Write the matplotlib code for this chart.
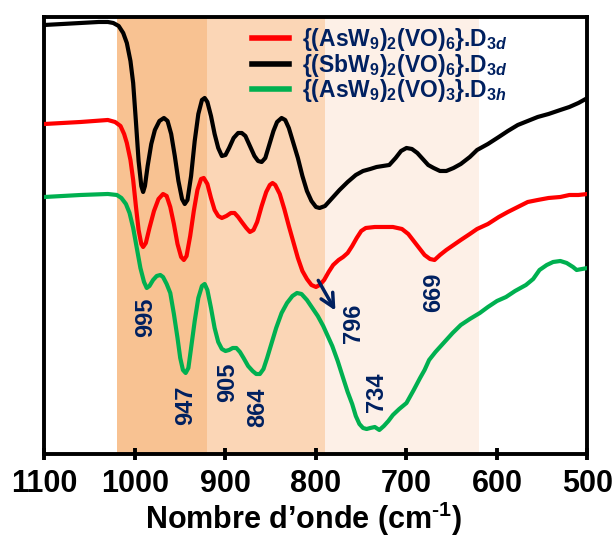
#!/usr/bin/env python3
# -*- coding: utf-8 -*-
"""Spectres IR (transmittance, u.a.) des trois polyoxométallates, zone 1100-500 cm-1."""

import matplotlib
matplotlib.use("Agg")
import matplotlib.pyplot as plt

# ---- données (nombre d'onde cm-1, transmittance u.a.) ----
wn_black = [1100, 1080, 1060, 1040, 1030, 1024, 1018, 1013, 1009, 1005, 1002, 999, 996, 993, 991, 989,
            986, 982, 978, 973, 968, 964, 960, 956, 952, 948, 945, 942, 938, 934, 930, 926, 923, 920,
            916, 912, 908, 904, 900, 896, 891, 886, 882, 878, 873, 868, 864, 860, 856, 852, 847, 843,
            838, 834, 830, 825, 820, 815, 810, 805, 800, 796, 790, 785, 780, 774, 765, 756, 748, 740,
            733, 726, 719, 712, 706, 700, 694, 688, 682, 676, 670, 663, 656, 648, 640, 630, 622, 610,
            598, 588, 577, 566, 555, 543, 530, 520, 510, 500]
t_black = [431, 432, 433, 434, 434, 433, 430, 423, 413, 395, 373, 335, 295, 270, 264, 270,
           290, 312, 326, 335, 338, 335, 322, 300, 275, 257, 252, 256, 280, 315, 342, 356, 358, 354,
           340, 322, 308, 300, 301, 308, 318, 323, 323, 320, 310, 300, 295, 294, 298, 310, 325, 334,
           338, 336, 328, 313, 298, 280, 265, 255, 249, 248, 250, 255, 260, 266, 274, 281, 285, 287,
           289, 290, 291, 298, 305, 308, 307, 303, 297, 291, 288, 285, 285, 288, 292, 299, 306, 312,
           319, 325, 331, 335, 339, 342, 346, 349, 353, 358]

wn_red = [1100, 1060, 1030, 1022, 1016, 1012, 1009, 1005, 1002, 999, 996, 993, 991, 988, 984, 979,
          974, 969, 965, 961, 957, 953, 949, 946, 943, 939, 935, 931, 927, 924, 920, 916, 912, 908,
          904, 899, 894, 890, 886, 882, 877, 873, 869, 865, 860, 855, 851, 848, 845, 840, 835, 830,
          825, 820, 815, 810, 805, 800, 796, 791, 786, 781, 775, 770, 765, 760, 755, 750, 745, 735,
          725, 715, 705, 698, 692, 686, 680, 674, 669, 663, 656, 648, 640, 630, 622, 610, 598, 588,
          577, 566, 555, 543, 530, 520, 510, 500]
t_red = [332, 334, 336, 334, 330, 322, 313, 296, 276, 250, 226, 212, 209, 213, 228, 245,
         257, 262, 260, 249, 232, 212, 199, 196, 200, 220, 245, 266, 277, 278, 272, 258, 246, 240,
         238, 240, 243, 243, 239, 234, 228, 224, 226, 234, 250, 264, 271, 273, 271, 262, 247, 230,
         214, 198, 185, 177, 171, 169, 171, 176, 184, 191, 196, 199, 203, 210, 218, 225, 228, 229,
         229, 229, 227, 222, 215, 208, 201, 197, 196, 201, 206, 211, 216, 222, 227, 232, 239, 244,
         249, 254, 256, 258, 259, 261, 261, 262]

wn_green = [1100, 1060, 1030, 1020, 1015, 1010, 1006, 1002, 998, 994, 990, 987, 984, 980, 976, 972,
            969, 965, 961, 957, 953, 950, 947, 944, 941, 938, 934, 930, 926, 923, 920, 916, 912, 908,
            904, 900, 896, 892, 888, 884, 880, 875, 870, 866, 862, 858, 854, 849, 844, 838, 832, 826,
            821, 816, 810, 804, 798, 792, 788, 782, 776, 770, 765, 760, 756, 752, 748, 744, 740, 735,
            730, 725, 720, 715, 708, 700, 692, 685, 680, 675, 668, 660, 649, 640, 630, 619, 610, 600,
            590, 580, 568, 560, 553, 545, 538, 530, 523, 516, 512, 506, 500]
t_green = [259, 261, 262, 261, 258, 252, 243, 228, 208, 188, 174, 168, 170, 176, 180, 181,
           179, 172, 163, 142, 118, 98, 86, 83, 88, 108, 135, 158, 170, 172, 166, 148, 128, 114,
           107, 105, 106, 108, 108, 104, 98, 90, 85, 82, 82, 87, 98, 113, 128, 143, 153, 160,
           163, 162, 156, 148, 140, 130, 122, 110, 95, 78, 64, 52, 40, 32, 28, 27, 28, 29,
           26, 30, 35, 41, 47, 53, 66, 78, 86, 96, 104, 112, 123, 131, 137, 143, 149, 155,
           159, 165, 171, 177, 186, 191, 194, 195, 193, 189, 186, 187, 188]

labels = [r'{(AsW$_9$)$_2$(VO)$_6$}.D$_{3\mathit{d}}$',
          r'{(SbW$_9$)$_2$(VO)$_6$}.D$_{3\mathit{d}}$',
          r'{(AsW$_9$)$_2$(VO)$_3$}.D$_{3\mathit{h}}$']

# zones colorées (début, fin en cm-1)
band_edges = [(1020, 920), (920, 790), (790, 620)]
band_colors = ['#F8C292', '#FBD6B6', '#FDF0E7']

# bandes annotées: texte, position (cm-1, u.a.)
peak_text = ['995', '947', '905', '864', '796', '734', '669']
peak_x = [988, 944, 898, 864, 759, 733, 670]
peak_y = [139, 51, 74, 49, 133, 64, 164]

arrow_start = (799, 178)
arrow_end = (777, 143)

NAVY = '#002060'


def main():
    plt.rcParams['font.family'] = ['Liberation Sans', 'DejaVu Sans']
    plt.rcParams['font.weight'] = 'bold'
    plt.rcParams['mathtext.fontset'] = 'custom'
    plt.rcParams['mathtext.rm'] = 'Liberation Sans:bold'
    plt.rcParams['mathtext.it'] = 'Liberation Sans:bold:italic'
    plt.rcParams['mathtext.bf'] = 'Liberation Sans:bold'

    fig = plt.figure(figsize=(6.16, 5.39), dpi=100)
    ax = fig.add_axes([0.0722, 0.1577, 0.8815, 0.8108])

    for (a, b), c in zip(band_edges, band_colors):
        ax.axvspan(a, b, color=c, lw=0, zorder=0)

    ax.plot(wn_red, t_red, color='#FF0000', lw=3, label=labels[0], zorder=3)
    ax.plot(wn_black, t_black, color='black', lw=3, label=labels[1], zorder=3)
    ax.plot(wn_green, t_green, color='#00B050', lw=3, label=labels[2], zorder=3)

    for s, x, y in zip(peak_text, peak_x, peak_y):
        ax.text(x, y, s, rotation=90, ha='center', va='center', color=NAVY,
                fontsize=17, fontweight='bold', zorder=4)

    ax.annotate('', xy=arrow_end, xytext=arrow_start,
                arrowprops=dict(arrowstyle='->', color=NAVY, lw=2.5, mutation_scale=24),
                zorder=4)

    ax.set_xlim(1100, 500)
    ax.set_ylim(2, 439)
    ax.set_xticks([1100, 1000, 900, 800, 700, 600, 500])
    ax.set_yticks([])
    ax.tick_params(axis='x', direction='inout', length=9, width=2.8, labelsize=22, pad=6)
    for lab in ax.get_xticklabels():
        lab.set_fontweight('bold')
    for sp in ax.spines.values():
        sp.set_linewidth(2.8)
    ax.set_xlabel(r'Nombre d’onde (cm$^{\text{-}1}$)', fontsize=22, fontweight='bold', labelpad=1)
    ax.xaxis.label.set_x(0.478)

    leg = ax.legend(loc='upper left', bbox_to_anchor=(0.383, 0.98), frameon=False,
                    fontsize=16.5, handlelength=1.6, handletextpad=0.55, labelspacing=-0.05,
                    borderpad=0, borderaxespad=0)
    for t in leg.get_texts():
        t.set_color(NAVY)
    for h in leg.get_lines():
        h.set_linewidth(4)

    fig.savefig('out.png', dpi=100)


if __name__ == '__main__':
    main()
